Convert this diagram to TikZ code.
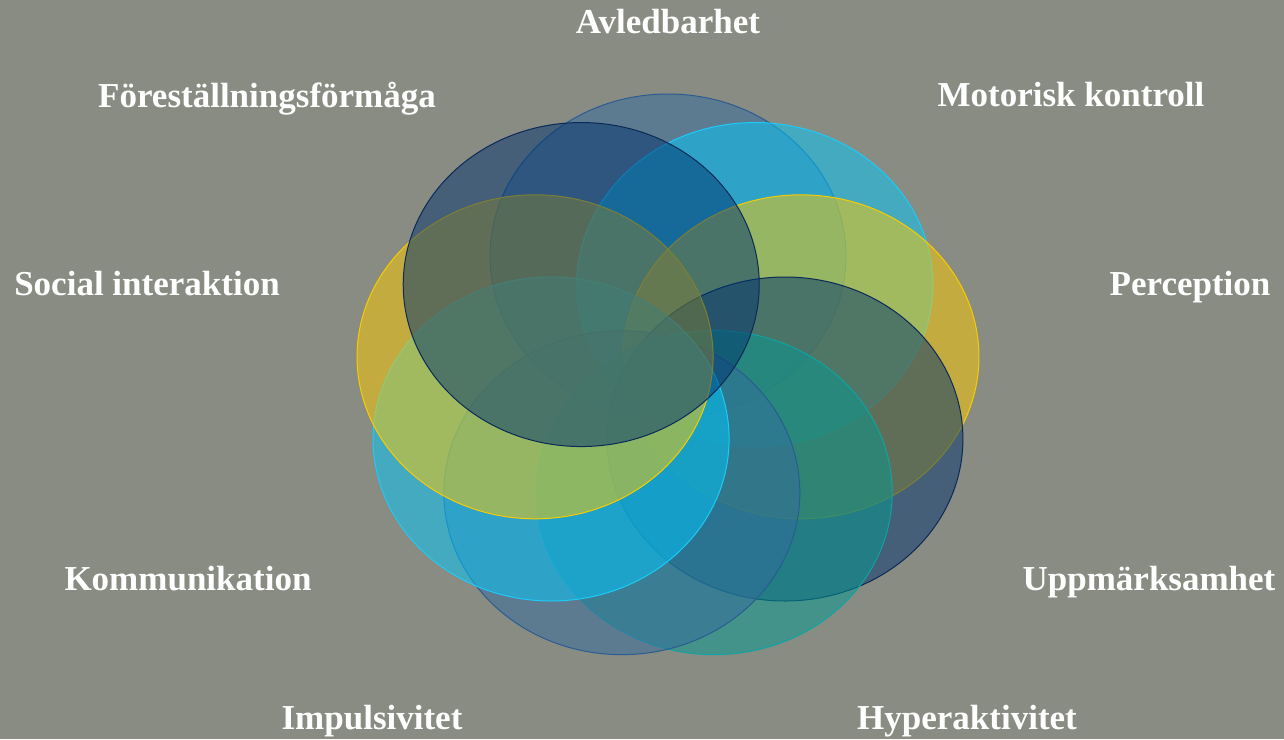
\documentclass[tikz,border=0pt]{standalone}
\usepackage{fontspec}
\setmainfont{Liberation Serif}
\usepackage{xcolor}
\usepackage{tikz}

\definecolor{bgtone}{HTML}{898C82}
\definecolor{slatefill}{HTML}{336B9E}
\definecolor{slateline}{HTML}{2A5C92}
\definecolor{cyanfill}{HTML}{00C9FF}
\definecolor{cyanline}{HTML}{1CCBF8}
\definecolor{yellowfill}{HTML}{FFCB00}
\definecolor{yellowline}{HTML}{F8CC00}
\definecolor{navyfill}{HTML}{00336E}
\definecolor{navyline}{HTML}{0B2A58}
\definecolor{tealfill}{HTML}{019B92}
\definecolor{tealline}{HTML}{0FA3A3}

\begin{document}
\begin{tikzpicture}
        [
            x = 1pt, y = -1pt,
            every node/.append style = {text = white, font = \fontsize{35}{40}\selectfont\bfseries, anchor = base, inner sep = 0pt},
            bubble/.style = {fill = #1fill, draw = #1line, fill opacity = 0.5, draw opacity = 1, line width = 1pt}]
        \fill[bgtone] (0,0) rectangle (1284,739);
        \useasboundingbox (0,0) rectangle (1284,739);
        \foreach \a/\c in {90/slate, 50/cyan, 10/yellow, -30/navy, -70/teal, -110/slate, -150/cyan, 170/yellow, 130/navy}
            \path[bubble = \c] ({668+135*cos(\a)}, {378-122*sin(\a)}) ellipse [x radius = 178, y radius = 162];
        \node (avled) at (668,33) {Avledbarhet};
        \node (forest) at (267,107) {Föreställningsförmåga};
        \node (motor) at (1071,106) {Motorisk kontroll};
        \node (social) at (147,295) {Social interaktion};
        \node (percep) at (1190,295) {Perception};
        \node (kommun) at (188,590) {Kommunikation};
        \node (uppm) at (1149,590) {Uppmärksamhet};
        \node (impuls) at (372,729) {Impulsivitet};
        \node (hyper) at (967,729) {Hyperaktivitet};
\end{tikzpicture}
\end{document}
